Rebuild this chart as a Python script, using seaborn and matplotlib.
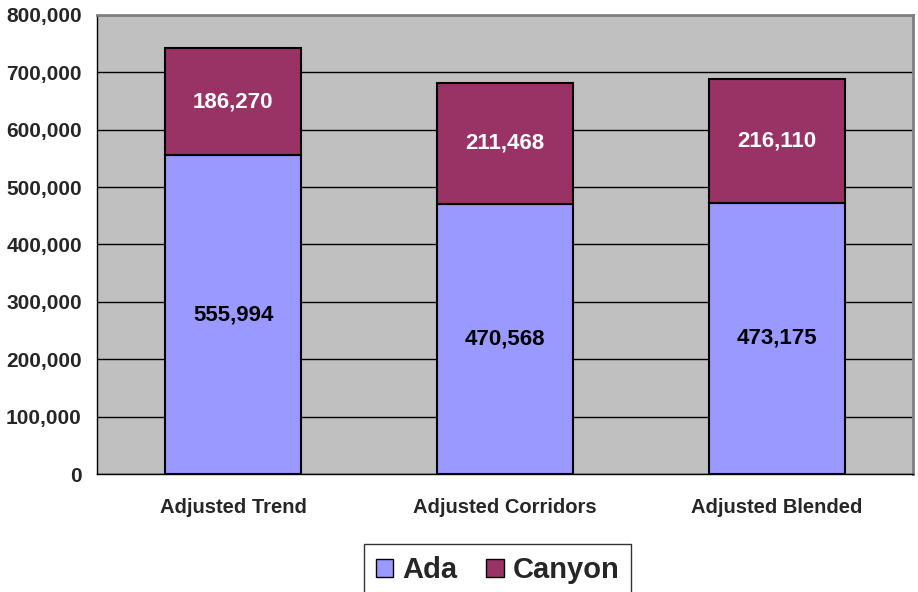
import pandas as pd
import seaborn as sns
import matplotlib.pyplot as plt
from matplotlib.patches import Patch
from matplotlib.ticker import FuncFormatter, FixedLocator

sns.set_style("white")
plt.rcParams['font.family'] = ['Liberation Sans', 'DejaVu Sans']

scenarios = ['Adjusted Trend', 'Adjusted Corridors', 'Adjusted Blended']
ada = [555994, 470568, 473175]
canyon = [186270, 211468, 216110]

df = pd.DataFrame({'scenario': scenarios, 'Ada': ada, 'Canyon': canyon})

ada_color = '#9999FF'
canyon_color = '#993366'

fig = plt.figure(figsize=(9.18, 5.92), dpi=100)
ax = fig.add_axes([0.1057, 0.1993, 0.8889, 0.7754])
ax.set_facecolor('#C0C0C0')
ax.set_axisbelow(True)

sns.barplot(data=df, x='scenario', y='Ada', color=ada_color, width=0.5,
            edgecolor='black', linewidth=1.5, saturation=1, ax=ax)
sns.barplot(data=df, x='scenario', y='Canyon', color=canyon_color, width=0.5,
            edgecolor='black', linewidth=1.5, saturation=1, bottom=df['Ada'], ax=ax)

for i, (a, c) in enumerate(zip(ada, canyon)):
    ax.text(i, a / 2, f"{a:,}", ha='center', va='center', fontsize=16,
            fontweight='bold', color='black')
    ax.text(i, a + c / 2, f"{c:,}", ha='center', va='center', fontsize=16,
            fontweight='bold', color='white')

ax.set_ylim(0, 800000)
ax.set_xlim(-0.5, 2.5)
ax.yaxis.set_major_locator(FixedLocator(range(0, 800001, 100000)))
ax.yaxis.set_major_formatter(FuncFormatter(lambda v, p: f"{int(v):,}"))
ax.grid(axis='y', color='black', linewidth=1)
ax.grid(axis='x', visible=False)

# category labels between boundary ticks, like the original
ax.set_xticks([0.5, 1.5], minor=False)
ax.set_xticklabels([])
ax.set_xticks([0, 1, 2], minor=True)
ax.set_xticklabels(scenarios, minor=True, fontsize=14.5, fontweight='bold')
ax.tick_params(axis='x', which='major', direction='out', length=6, width=1, color='black')
ax.tick_params(axis='x', which='minor', length=0, pad=17)
ax.tick_params(axis='y', direction='out', length=5, width=1, color='black',
               labelsize=15, pad=6)
for lab in ax.get_yticklabels():
    lab.set_fontweight('bold')

ax.set_xlabel('')
ax.set_ylabel('')
for side in ['left', 'bottom']:
    ax.spines[side].set_color('black')
    ax.spines[side].set_linewidth(1)
for side in ['top', 'right']:
    ax.spines[side].set_color('#808080')
    ax.spines[side].set_linewidth(2)

handles = [Patch(facecolor=ada_color, edgecolor='black', label='Ada'),
           Patch(facecolor=canyon_color, edgecolor='black', label='Canyon')]
leg = fig.legend(handles=handles, loc='lower center', bbox_to_anchor=(0.542, -0.031),
                 ncol=2, frameon=True, fancybox=False, edgecolor='black',
                 prop={'size': 21, 'weight': 'bold'}, handlelength=0.6,
                 handleheight=0.6, handletextpad=0.3, columnspacing=1.0,
                 borderpad=0.4)
leg.get_frame().set_linewidth(1)

fig.savefig('out.png', dpi=100)
